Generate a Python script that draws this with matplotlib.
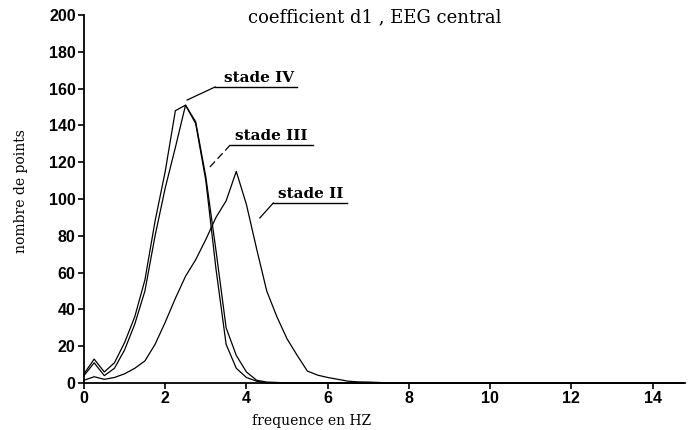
import numpy as np
import matplotlib.pyplot as plt

# frequency grid (Hz), one point every 0.25 Hz
freq = np.arange(0, 14.76, 0.25)

# values (0 - 7.5 Hz), rest is zero
stade_IV = [5, 13, 6, 11, 22, 36, 56, 88, 115, 148, 151, 141, 110, 62, 21, 8,
            3, 1, 0]
stade_III = [4, 11, 4, 8, 18, 32, 50, 80, 106, 128, 151, 142, 112, 72, 30, 15,
             6, 1.5, 0.5, 0.3, 0]
stade_II = [1.5, 3.4, 2, 3, 5, 8, 12, 21, 33, 46, 58, 67, 78, 90, 99, 115,
            97, 73, 50, 36, 24, 15, 6.5, 4.3, 3, 2, 1, 0.6, 0.5, 0.3, 0]

def pad(vals):
    out = np.zeros(len(freq))
    out[:len(vals)] = vals
    return out

labels = ['stade IV', 'stade III', 'stade II']
# label text x, underline y, leader start (x, y), underline start x, underline end x
label_pos = [(4.30, 160.9, 2.54, 153.8, 3.23, 5.25),
             (4.62, 129.3, 3.10, 117.4, 3.60, 5.64),
             (5.58, 97.8, 4.33, 89.7, 4.66, 6.48)]
leader_style = ['-', (0, (6, 3)), '-']

fig = plt.figure(figsize=(6.96, 4.30), dpi=100)
ax = fig.add_axes([84/696, 47/430, 601/696, 368/430])

for vals in (stade_IV, stade_III, stade_II):
    ax.plot(freq, pad(vals), color='black', lw=0.9, clip_on=False)

for lab, (tx, uy, lx, ly, ux, ue), ls in zip(labels, label_pos, leader_style):
    ax.plot([lx, ux], [ly, uy], color='black', lw=0.9, ls=ls)
    ax.plot([ux, ue], [uy, uy], color='black', lw=1.0)
    ax.text(tx, uy + 1.2, lab, ha='center', va='bottom', fontsize=11,
            family='DejaVu Serif', weight='bold')

ax.set_xlim(0, 14.8)
ax.set_ylim(0, 200)
ax.set_xticks(np.arange(0, 15, 2))
ax.set_yticks(np.arange(0, 201, 20))
ax.spines['top'].set_visible(False)
ax.spines['right'].set_visible(False)
for s in ('left', 'bottom'):
    ax.spines[s].set_linewidth(1.3)
ax.tick_params(direction='out', length=4, width=1.2, pad=2)
for t in ax.get_xticklabels() + ax.get_yticklabels():
    t.set_family('Liberation Sans')
    t.set_fontsize(11.5)
    t.set_weight('bold')

fig.text(375/696, 1 - 17/430, 'coefficient d1 , EEG central', ha='center',
         va='center', fontsize=13, family='DejaVu Serif')
fig.text(312/696, 1 - 421/430, 'frequence en HZ', ha='center', va='center',
         fontsize=10, family='DejaVu Serif')
fig.text(21/696, 1 - 191/430, 'nombre de points', ha='center', va='center',
         rotation=90, fontsize=10, family='DejaVu Serif')

fig.savefig('out.png', dpi=100)
